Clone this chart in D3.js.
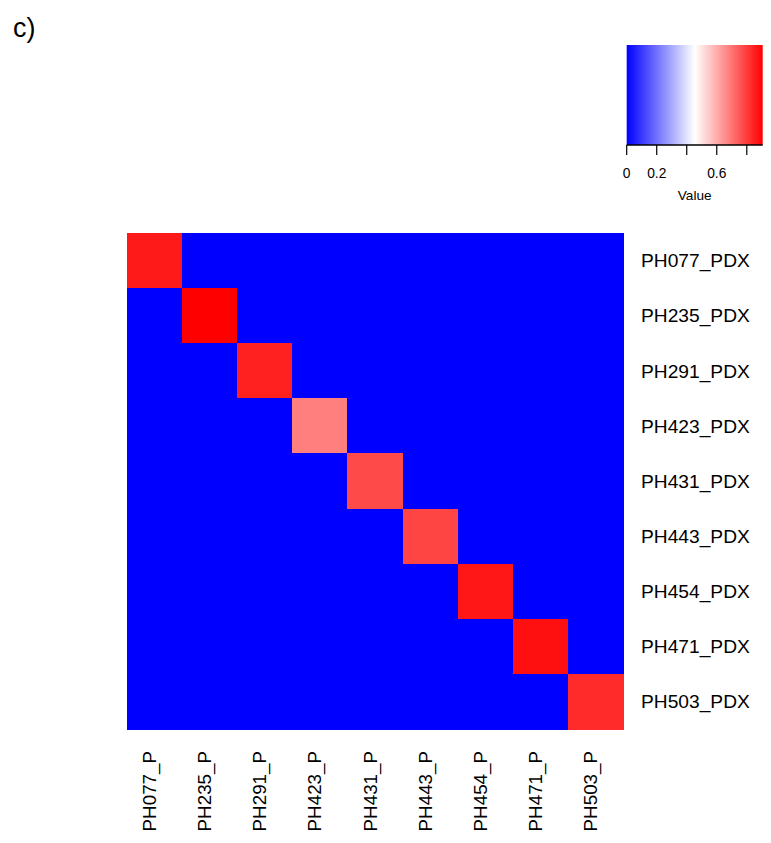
<!DOCTYPE html>
<html>
<head>
<meta charset="utf-8">
<script src="https://cdn.jsdelivr.net/npm/d3@7"></script>
<style>
  html, body { margin: 0; padding: 0; background: #fff; }
  text { font-family: "Liberation Sans", Arial, Helvetica, sans-serif; fill: #000; }
</style>
</head>
<body>
<svg id="chart" width="771" height="843"></svg>
<script>
// ---- data ----
const rowLabels = ["PH077_PDX","PH235_PDX","PH291_PDX","PH423_PDX","PH431_PDX","PH443_PDX","PH454_PDX","PH471_PDX","PH503_PDX"];
const colLabels = ["PH077_P","PH235_P","PH291_P","PH423_P","PH431_P","PH443_P","PH454_P","PH471_P","PH503_P"];
// matched-pair (diagonal) values; all other pairs are 0
const diagonalValues = [0.860, 0.906, 0.849, 0.680, 0.775, 0.785, 0.867, 0.878, 0.831];
const offDiagonalValue = 0;
const legendTicks = [0, 0.2, 0.4, 0.6, 0.8];
const legendTickLabels = ["0", "0.2", "", "0.6", ""];
const valueRange = [0, 0.906];

// build cells
const cells = [];
rowLabels.forEach((r, i) => colLabels.forEach((c, j) => {
  cells.push({row: r, col: c, value: i === j ? diagonalValues[i] : offDiagonalValue});
}));

const svg = d3.select("#chart");

const mid = (valueRange[0] + valueRange[1]) / 2;
const color = d3.scaleLinear()
  .domain([valueRange[0], mid, valueRange[1]])
  .range(["#0000ff", "#ffffff", "#ff0000"])
  .interpolate(d3.interpolateRgb);

// ---- heatmap ----
const x = d3.scaleBand().domain(colLabels).range([127, 623]).padding(0);
const y = d3.scaleBand().domain(rowLabels).range([233, 729]).padding(0);

svg.append("g").selectAll("rect").data(cells).join("rect")
  .attr("x", d => x(d.col))
  .attr("y", d => y(d.row))
  .attr("width", x.bandwidth() + 0.5)
  .attr("height", y.bandwidth() + 0.5)
  .attr("fill", d => color(d.value))
  .attr("shape-rendering", "crispEdges");

// row labels
svg.append("g").selectAll("text").data(rowLabels).join("text")
  .attr("x", 641)
  .attr("y", d => y(d) + y.bandwidth() / 2 + 6.8)
  .attr("font-size", 19.2)
  .text(d => d);

// column labels
svg.append("g").selectAll("text").data(colLabels).join("text")
  .attr("transform", d => `translate(${x(d) + x.bandwidth() / 2 + 1.5},751) rotate(-90)`)
  .attr("text-anchor", "end")
  .attr("font-size", 18.8)
  .text(d => d);

// ---- title ----
svg.append("text").attr("x", 13).attr("y", 37).attr("font-size", 27).text("c)");

// ---- legend ----
const lx = d3.scaleLinear().domain(valueRange).range([626.7, 762.7]);
const defs = svg.append("defs");
const grad = defs.append("linearGradient").attr("id", "lg")
  .attr("x1", "0%").attr("x2", "100%").attr("y1", "0%").attr("y2", "0%");
d3.range(0, 1.0001, 0.05).forEach(t => {
  const v = valueRange[0] + t * (valueRange[1] - valueRange[0]);
  grad.append("stop").attr("offset", (t * 100) + "%").attr("stop-color", color(v));
});
svg.append("rect")
  .attr("x", lx(valueRange[0])).attr("y", 45)
  .attr("width", lx(valueRange[1]) - lx(valueRange[0])).attr("height", 100)
  .attr("fill", "url(#lg)");

const axisG = svg.append("g").attr("transform", "translate(0,145)");
axisG.append("line")
  .attr("x1", lx(valueRange[0])).attr("x2", lx(valueRange[1]))
  .attr("y1", 0).attr("y2", 0)
  .attr("stroke", "#000").attr("stroke-width", 1.5);
axisG.selectAll("line.tick").data(legendTicks).join("line")
  .attr("class", "tick")
  .attr("x1", d => lx(d)).attr("x2", d => lx(d))
  .attr("y1", 0).attr("y2", 10)
  .attr("stroke", "#000").attr("stroke-width", 1.2);
axisG.selectAll("text").data(legendTicks).join("text")
  .attr("x", d => lx(d))
  .attr("y", 33)
  .attr("text-anchor", "middle")
  .attr("font-size", 13.8)
  .text((d, i) => legendTickLabels[i]);

svg.append("text")
  .attr("x", (lx(valueRange[0]) + lx(valueRange[1])) / 2)
  .attr("y", 200)
  .attr("text-anchor", "middle")
  .attr("font-size", 13.6)
  .text("Value");
</script>
</body>
</html>
